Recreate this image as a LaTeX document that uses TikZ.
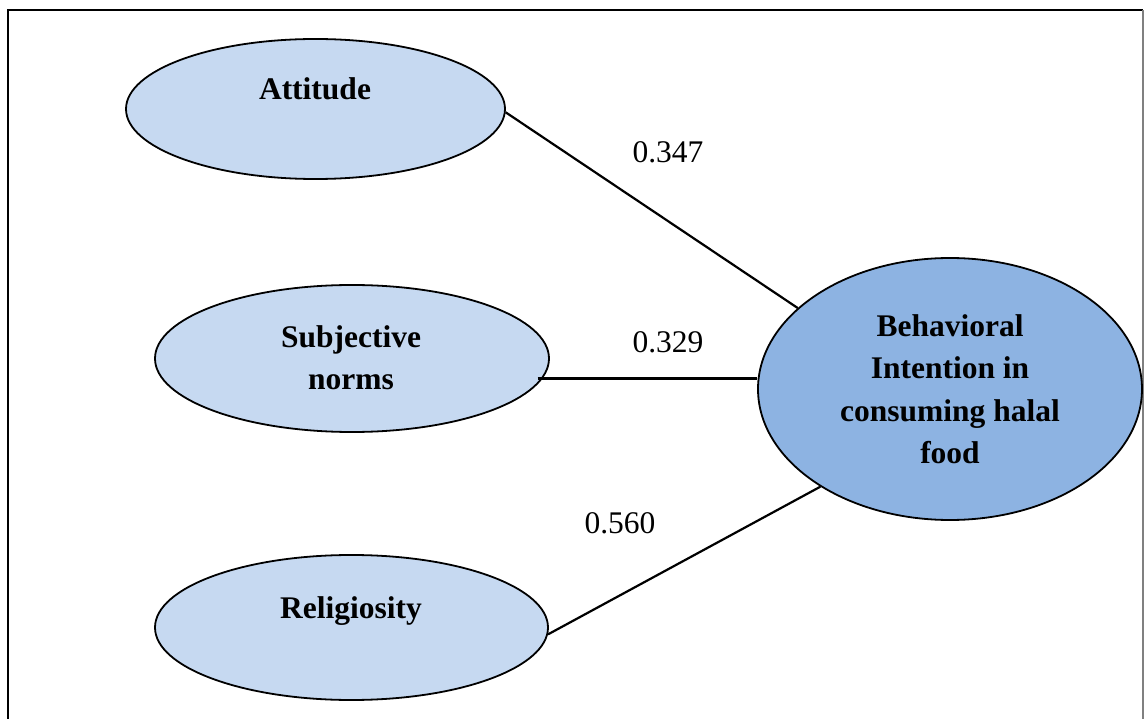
\documentclass[tikz,border=0pt]{standalone}
\usepackage{fontspec}
\setmainfont{Liberation Serif}
\usetikzlibrary{shapes.geometric,calc}
\definecolor{latentfill}{HTML}{C6D9F1}
\definecolor{targetfill}{HTML}{8DB3E2}
\definecolor{framegray}{HTML}{808080}
\begin{document}
\begin{tikzpicture}[x=1pt,y=-1pt,
  construct/.style={ellipse, draw=black, line width=1.8pt, fill=latentfill, inner sep=0pt},
  outcome/.style={construct, fill=targetfill},
  caption/.style={font=\fontsize{31.5}{42}\selectfont\bfseries, anchor=base, inner sep=0pt},
  coef/.style={font=\fontsize{31.5}{42}\selectfont, anchor=base, inner sep=0pt},
  link/.style={line width=2.2pt}]
\useasboundingbox (0,0) rectangle (1144,719);
\clip (0,0) rectangle (1144,719);
\fill[white] (0,0) rectangle (1144,719);

% outer frame (bottom edge falls below the page)
\draw[line width=2pt] (8,740) -- (8,10) -- (1143,10);
\draw[line width=2pt, framegray] (1143,10) -- (1143,740);

% constructs
\node[construct, minimum width=379pt, minimum height=140pt] (att) at (315.5,109) {};
\node[construct, minimum width=394pt, minimum height=147pt] (sub) at (352,358.5) {};
\node[construct, minimum width=393pt, minimum height=145pt] (rel) at (351.5,627.5) {};
\node[outcome, minimum width=384pt, minimum height=262pt] (bi) at (950,389) {};

% construct names
\node[caption] (attT) at (315,100) {Attitude};
\node[caption] (subT1) at (351,348) {Subjective};
\node[caption] (subT2) at (351,390) {norms};
\node[caption] (relT) at (351,618) {Religiosity};
\node[caption] (biT1) at (950,337) {Behavioral};
\node[caption] (biT2) at (950,379) {Intention in};
\node[caption] (biT3) at (950,421.5) {consuming halal};
\node[caption] (biT4) at (950,463) {food};

% paths
\coordinate (s0) at ($(sub.-6.5)+(-5,0)$);
\draw[link] (att.-1) -- (bi.152.8);
\draw[link] (s0) -- (s0 -| bi.west);
\draw[link] (rel.-2.2) -- (bi.217);

% path coefficients
\node[coef] (c1) at (668,163) {0.347};
\node[coef] (c2) at (668,353) {0.329};
\node[coef] (c3) at (620,533) {0.560};
\end{tikzpicture}
\end{document}
